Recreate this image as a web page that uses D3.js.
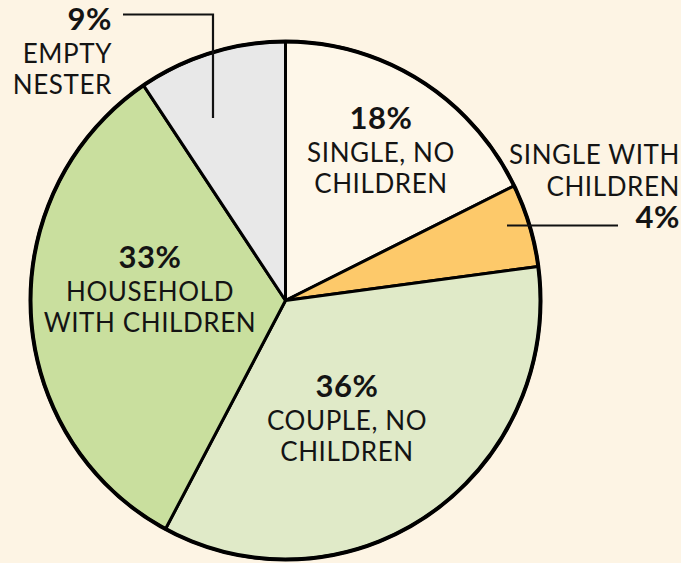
<!DOCTYPE html>
<html>
<head>
<meta charset="utf-8">
<script src="https://cdn.jsdelivr.net/npm/d3@7"></script>
<style>
  html, body { margin: 0; padding: 0; background: #fdf4e4; }
  svg { display: block; }
  text { font-family: Lato, "Open Sans", sans-serif; fill: #141414; }
</style>
</head>
<body>
<svg id="chart" width="681" height="563"></svg>
<script>
// ---- data ----
const categories = ["SINGLE, NO CHILDREN", "SINGLE WITH CHILDREN", "COUPLE, NO CHILDREN", "HOUSEHOLD WITH CHILDREN", "EMPTY NESTER"];
const values = [17.7, 5.2, 34.9, 32.8, 9.4];
const percentLabels = ["18%", "4%", "36%", "33%", "9%"];
const nameLines = [["SINGLE, NO", "CHILDREN"], ["SINGLE WITH", "CHILDREN"], ["COUPLE, NO", "CHILDREN"], ["HOUSEHOLD", "WITH CHILDREN"], ["EMPTY", "NESTER"]];
const colors = ["#fef7e9", "#fdc96a", "#e0eac8", "#c9df9e", "#e8e8e8"];

// ---- layout ----
const W = 681, H = 563;
const cx = 285.5, cy = 300.5, R = 255, yScale = 259 / 255;
const svg = d3.select("#chart");
svg.append("rect").attr("width", W).attr("height", H).attr("fill", "#fdf4e4");

const pie = d3.pie().sort(null).value(d => d)(values);
const arc = d3.arc().innerRadius(0).outerRadius(R);

const g = svg.append("g").attr("transform", `translate(${cx},${cy}) scale(1,${yScale})`);
g.selectAll("path.slice").data(pie).join("path")
  .attr("class", "slice")
  .attr("d", arc)
  .attr("fill", (d, i) => colors[i])
  .attr("stroke", "#000")
  .attr("stroke-width", 3)
  .attr("stroke-linejoin", "round")
  .attr("vector-effect", "non-scaling-stroke");
g.append("path")
  .attr("d", d3.arc().innerRadius(R).outerRadius(R)({startAngle: 0, endAngle: 2 * Math.PI}))
  .attr("fill", "none").attr("stroke", "#000").attr("stroke-width", 4)
  .attr("vector-effect", "non-scaling-stroke");

// label layout
const labelLayout = [
  {x: 381, y: 129, anchor: "middle", pctFirst: true},
  {x: 680, y: 164, anchor: "end", pctFirst: false},
  {x: 347, y: 397, anchor: "middle", pctFirst: true},
  {x: 150, y: 268, anchor: "middle", pctFirst: true},
  {x: 112, y: 30, anchor: "end", pctFirst: true}
];
const lineGap = 31.5;

labelLayout.forEach((L, i) => {
  const t = svg.append("g");
  let lines;
  if (L.pctFirst) {
    lines = [{text: percentLabels[i], bold: true}, ...nameLines[i].map(s => ({text: s, bold: false}))];
  } else {
    lines = [...nameLines[i].map(s => ({text: s, bold: false})), {text: percentLabels[i], bold: true}];
  }
  let y = L.y;
  lines.forEach((ln, k) => {
    if (k > 0) y += (L.pctFirst && k === 1) ? 32.5 : (!L.pctFirst && ln.bold ? 32.5 : lineGap);
    t.append("text")
      .attr("x", L.x).attr("y", y)
      .attr("text-anchor", L.anchor)
      .attr("font-size", ln.bold ? 31 : 26)
      .attr("font-weight", ln.bold ? 700 : 400)
      .attr("letter-spacing", ln.bold ? 0.6 : 0.6)
      .text(ln.text);
  });
});

// leader lines
svg.append("path")
  .attr("d", d3.line()([[123, 14.5], [213, 14.5], [213, 118]]))
  .attr("fill", "none").attr("stroke", "#111").attr("stroke-width", 2.2);
svg.append("path")
  .attr("d", d3.line()([[507, 225.5], [618, 225.5]]))
  .attr("fill", "none").attr("stroke", "#111").attr("stroke-width", 2.2);
</script>
</body>
</html>
